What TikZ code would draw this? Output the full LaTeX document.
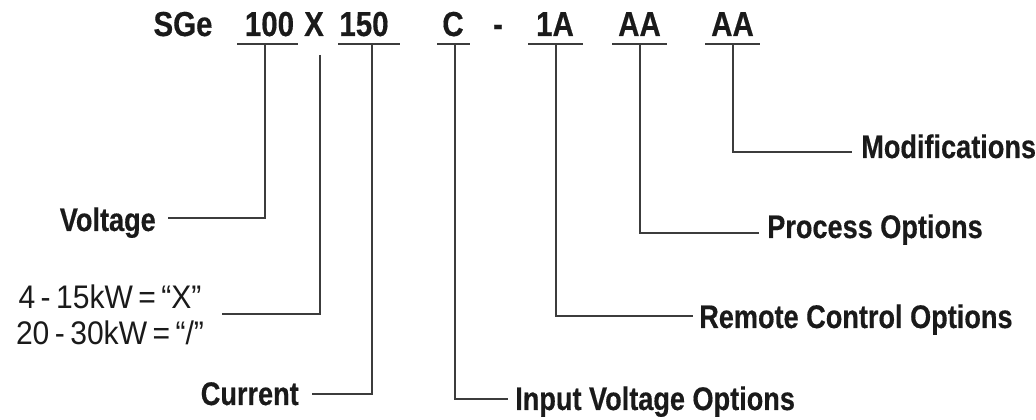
\documentclass[tikz,border=0pt]{standalone}
\usepackage{fontspec}
\setmainfont{Liberation Sans}
\newfontfamily\codefont[FakeStretch=0.85,FakeBold=0.4]{Liberation Sans}
\newfontfamily\labfont[FakeStretch=0.83,FakeBold=0.4]{Liberation Sans}
\newfontfamily\kwfont[FakeStretch=0.92]{Liberation Sans}
\definecolor{ink}{HTML}{1A1A1A}
\definecolor{wire}{HTML}{3C3C3C}
\begin{document}
\begin{tikzpicture}[x=0.75pt,y=-0.75pt,
  code/.style={font=\codefont\bfseries\fontsize{26}{30}\selectfont, text=ink, inner sep=0, anchor=base},
  lab/.style={font=\labfont\bfseries\fontsize{24.5}{28}\selectfont, text=ink, inner sep=0},
  kw/.style={font=\kwfont\fontsize{24.5}{27}\selectfont, text=ink, inner sep=0, align=center},
  uline/.style={draw=wire, line width=1.5pt},
  conn/.style={draw=wire, line width=0.9pt}]
\useasboundingbox[fill=white] (0,0) rectangle (1036,420);

% code tokens
\node[code] (sge)  at (183,36)   {SGe};
\node[code] (c100) at (269.5,36) {100};
\node[code] (cx)   at (314,36)   {X};
\node[code] (c150) at (364,36)   {150};
\node[code] (cc)   at (453,36)   {C};
\node[code] (dash) at (498,36)   {-};
\node[code] (c1a)  at (555,36)   {1A};
\node[code] (caa)  at (639.5,36) {AA};
\node[code] (cbb)  at (732.5,36) {AA};

% underlines
\coordinate (u100a) at (237,44); \coordinate (u100b) at (298,44);
\coordinate (u150a) at (338,44); \coordinate (u150b) at (400,44);
\coordinate (uCa)   at (437,44); \coordinate (uCb)   at (470,44);
\coordinate (u1Aa)  at (528,44); \coordinate (u1Ab)  at (583,44);
\coordinate (uAAa)  at (612,44); \coordinate (uAAb)  at (667,44);
\coordinate (uBBa)  at (705,44); \coordinate (uBBb)  at (760,44);
\draw[uline] (u100a) -- (u100b);
\draw[uline] (u150a) -- (u150b);
\draw[uline] (uCa) -- (uCb);
\draw[uline] (u1Aa) -- (u1Ab);
\draw[uline] (uAAa) -- (uAAb);
\draw[uline] (uBBa) -- (uBBb);

% connector starts
\coordinate (t100) at (265,44);
\coordinate (tX)   at (320,55);
\coordinate (t150) at (372,44);
\coordinate (tC)   at (455,44);
\coordinate (t1A)  at (556,44);
\coordinate (tAA)  at (640,44);
\coordinate (tBB)  at (733,44);

% connector ends
\coordinate (eVolt) at (168,218);
\coordinate (eKw)   at (222,314);
\coordinate (eCur)  at (312,394);
\coordinate (eIn)   at (508,399);
\coordinate (eRem)  at (693,316);
\coordinate (eProc) at (759,233);
\coordinate (eMod)  at (852,152);

% labels
\node[lab, anchor=base east] (volt) at (156,231) {Voltage};
\node[kw, anchor=north] (kwn) at (110,285) {4\,-\,15kW\,=\,“X”\\20\,-\,30kW\,=\,“/”};
\node[lab, anchor=base east] (cur) at (299,405) {Current};
\node[lab, anchor=base west] (inp) at (515,410) {Input Voltage Options};
\node[lab, anchor=base west] (rem) at (699,328) {Remote Control Options};
\node[lab, anchor=base west] (proc) at (767,238) {Process Options};
\node[lab, anchor=base west] (mod) at (861,158) {Modifications};

% connectors
\draw[conn] (t100) |- (eVolt);
\draw[conn] (tX) |- (eKw);
\draw[conn] (t150) |- (eCur);
\draw[conn] (tC) |- (eIn);
\draw[conn] (t1A) |- (eRem);
\draw[conn] (tAA) |- (eProc);
\draw[conn] (tBB) |- (eMod);
\end{tikzpicture}
\end{document}
